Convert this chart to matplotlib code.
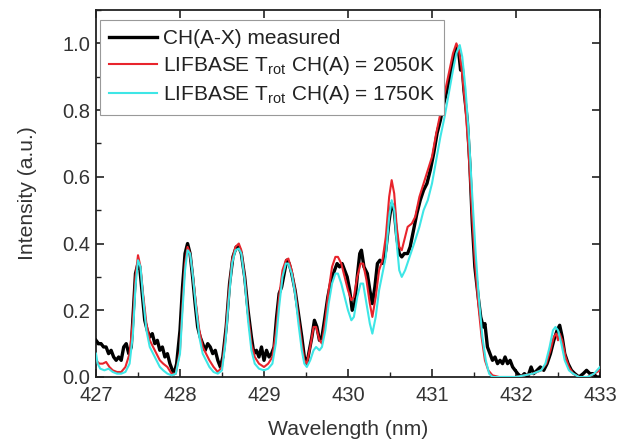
import matplotlib
matplotlib.use("Agg")
import matplotlib.pyplot as plt
from matplotlib.ticker import MultipleLocator, FormatStrFormatter

plt.rcParams['font.family'] = ['Liberation Sans', 'DejaVu Sans']
plt.rcParams['mathtext.fontset'] = 'custom'
plt.rcParams['mathtext.rm'] = 'Liberation Sans'
plt.rcParams['mathtext.it'] = 'Liberation Sans:italic'

# measured spectrum
meas_wl = [427.00, 427.03, 427.06, 427.09, 427.12, 427.15, 427.18, 427.21, 427.24, 427.27,
           427.30, 427.33, 427.36, 427.39, 427.42, 427.44, 427.47, 427.50, 427.52, 427.55,
           427.58, 427.61, 427.64, 427.67, 427.70, 427.73, 427.76, 427.79, 427.82, 427.85,
           427.88, 427.91, 427.93, 427.96, 428.00, 428.03, 428.06, 428.09, 428.12, 428.15,
           428.18, 428.21, 428.24, 428.27, 428.30, 428.33, 428.36, 428.39, 428.42, 428.45,
           428.48, 428.51, 428.55, 428.59, 428.63, 428.67, 428.70, 428.73, 428.77, 428.81,
           428.85, 428.88, 428.91, 428.94, 428.97, 429.00, 429.03, 429.06, 429.09, 429.12,
           429.15, 429.18, 429.21, 429.24, 429.27, 429.30, 429.33, 429.37, 429.41, 429.45,
           429.48, 429.51, 429.54, 429.57, 429.60, 429.63, 429.66, 429.69, 429.72, 429.76,
           429.80, 429.84, 429.87, 429.90, 429.93, 429.96, 429.99, 430.02, 430.05, 430.08,
           430.11, 430.14, 430.16, 430.19, 430.23, 430.26, 430.29, 430.32, 430.35, 430.38,
           430.42, 430.45, 430.49, 430.52, 430.55, 430.58, 430.61, 430.64, 430.67, 430.71,
           430.74, 430.78, 430.82, 430.86, 430.90, 430.94, 430.98, 431.02, 431.06, 431.10,
           431.14, 431.18, 431.22, 431.26, 431.30, 431.32, 431.34, 431.36, 431.38, 431.42,
           431.45, 431.48, 431.51, 431.55, 431.58, 431.61, 431.63, 431.66, 431.69, 431.72,
           431.75, 431.78, 431.81, 431.84, 431.87, 431.90, 431.93, 431.96, 431.99, 432.02,
           432.06, 432.10, 432.14, 432.18, 432.21, 432.25, 432.29, 432.33, 432.37, 432.41,
           432.45, 432.49, 432.52, 432.55, 432.58, 432.62, 432.66, 432.70, 432.75, 432.80,
           432.84, 432.88, 432.92, 432.96, 433.00]
meas_int = [0.11, 0.10, 0.10, 0.09, 0.09, 0.07, 0.08, 0.06, 0.05, 0.06,
            0.05, 0.09, 0.10, 0.07, 0.09, 0.18, 0.31, 0.34, 0.33, 0.25,
            0.17, 0.14, 0.12, 0.13, 0.10, 0.11, 0.08, 0.09, 0.06, 0.07,
            0.04, 0.02, 0.01, 0.04, 0.14, 0.27, 0.37, 0.40, 0.37, 0.30,
            0.22, 0.15, 0.12, 0.10, 0.08, 0.10, 0.09, 0.07, 0.08, 0.05,
            0.03, 0.06, 0.15, 0.28, 0.36, 0.39, 0.39, 0.37, 0.30, 0.20,
            0.12, 0.07, 0.08, 0.06, 0.09, 0.05, 0.08, 0.06, 0.07, 0.09,
            0.18, 0.25, 0.27, 0.31, 0.35, 0.34, 0.31, 0.26, 0.19, 0.12,
            0.06, 0.04, 0.08, 0.12, 0.17, 0.15, 0.11, 0.12, 0.17, 0.24,
            0.29, 0.32, 0.34, 0.33, 0.34, 0.32, 0.30, 0.26, 0.20, 0.22,
            0.30, 0.37, 0.38, 0.33, 0.31, 0.26, 0.22, 0.27, 0.34, 0.35,
            0.34, 0.38, 0.47, 0.52, 0.50, 0.42, 0.37, 0.36, 0.37, 0.37,
            0.39, 0.44, 0.49, 0.53, 0.56, 0.58, 0.62, 0.67, 0.73, 0.77,
            0.82, 0.86, 0.91, 0.96, 0.99, 0.97, 0.92, 0.93, 0.86, 0.77,
            0.64, 0.46, 0.33, 0.24, 0.18, 0.15, 0.16, 0.09, 0.07, 0.05,
            0.06, 0.04, 0.05, 0.04, 0.06, 0.04, 0.05, 0.03, 0.02, 0.01,
            0.00, 0.01, 0.00, 0.03, 0.01, 0.02, 0.03, 0.02, 0.04, 0.07,
            0.11, 0.14, 0.155, 0.12, 0.07, 0.04, 0.02, 0.01, 0.00, 0.01,
            0.02, 0.01, 0.01, 0.00, 0.00]

# LIFBASE 2050 K
sim2050_wl = [427.00, 427.04, 427.08, 427.12, 427.16, 427.20, 427.25, 427.30, 427.35, 427.40,
              427.44, 427.47, 427.50, 427.53, 427.56, 427.60, 427.64, 427.68, 427.72, 427.76,
              427.80, 427.85, 427.90, 427.95, 428.00, 428.03, 428.06, 428.09, 428.12, 428.15,
              428.19, 428.23, 428.27, 428.31, 428.35, 428.40, 428.45, 428.50, 428.54, 428.58,
              428.62, 428.66, 428.70, 428.73, 428.77, 428.81, 428.85, 428.89, 428.94, 429.00,
              429.05, 429.10, 429.14, 429.18, 429.22, 429.26, 429.29, 429.33, 429.37, 429.41,
              429.45, 429.48, 429.51, 429.55, 429.59, 429.62, 429.66, 429.69, 429.73, 429.77,
              429.81, 429.85, 429.88, 429.92, 429.96, 430.00, 430.04, 430.07, 430.11, 430.15,
              430.18, 430.22, 430.26, 430.29, 430.33, 430.37, 430.41, 430.45, 430.49, 430.52,
              430.55, 430.58, 430.61, 430.64, 430.68, 430.71, 430.76, 430.80, 430.85, 430.90,
              430.95, 431.00, 431.05, 431.10, 431.15, 431.20, 431.25, 431.29, 431.32, 431.35,
              431.39, 431.43, 431.47, 431.51, 431.55, 431.59, 431.63, 431.67, 431.72, 431.80,
              431.90, 432.00, 432.10, 432.20, 432.30, 432.36, 432.41, 432.45, 432.48, 432.50,
              432.52, 432.55, 432.59, 432.63, 432.68, 432.75, 432.85, 432.93, 433.00]
sim2050_int = [0.05, 0.04, 0.04, 0.045, 0.03, 0.02, 0.015, 0.015, 0.03, 0.07,
               0.17, 0.30, 0.365, 0.33, 0.25, 0.16, 0.11, 0.09, 0.07, 0.05,
               0.04, 0.03, 0.01, 0.01, 0.08, 0.22, 0.34, 0.39, 0.37, 0.31,
               0.22, 0.14, 0.09, 0.07, 0.05, 0.03, 0.015, 0.03, 0.12, 0.25,
               0.35, 0.39, 0.40, 0.38, 0.30, 0.19, 0.10, 0.06, 0.04, 0.03,
               0.04, 0.06, 0.13, 0.24, 0.32, 0.35, 0.355, 0.32, 0.26, 0.18,
               0.10, 0.05, 0.04, 0.09, 0.15, 0.15, 0.11, 0.10, 0.17, 0.26,
               0.33, 0.36, 0.36, 0.34, 0.30, 0.26, 0.23, 0.24, 0.30, 0.34,
               0.34, 0.29, 0.22, 0.18, 0.24, 0.32, 0.35, 0.42, 0.54, 0.59,
               0.55, 0.45, 0.39, 0.38, 0.42, 0.45, 0.46, 0.48, 0.54, 0.58,
               0.62, 0.66, 0.73, 0.79, 0.85, 0.91, 0.97, 1.00, 0.98, 0.93,
               0.83, 0.70, 0.52, 0.35, 0.22, 0.12, 0.05, 0.02, 0.005, 0.00,
               0.00, 0.00, 0.005, 0.01, 0.02, 0.04, 0.08, 0.12, 0.13, 0.11,
               0.13, 0.11, 0.06, 0.03, 0.01, 0.00, 0.00, 0.01, 0.02]

# LIFBASE 1750 K
sim1750_wl = [427.00, 427.02, 427.05, 427.10, 427.15, 427.20, 427.25, 427.30, 427.35, 427.40,
              427.44, 427.47, 427.50, 427.53, 427.56, 427.60, 427.64, 427.68, 427.72, 427.76,
              427.80, 427.85, 427.90, 427.95, 428.00, 428.03, 428.06, 428.09, 428.12, 428.15,
              428.19, 428.23, 428.27, 428.31, 428.35, 428.40, 428.45, 428.50, 428.54, 428.58,
              428.62, 428.66, 428.70, 428.73, 428.77, 428.81, 428.85, 428.89, 428.94, 429.00,
              429.05, 429.10, 429.14, 429.18, 429.22, 429.26, 429.29, 429.33, 429.37, 429.41,
              429.45, 429.48, 429.51, 429.55, 429.59, 429.62, 429.66, 429.69, 429.73, 429.77,
              429.81, 429.85, 429.88, 429.92, 429.96, 430.00, 430.04, 430.07, 430.11, 430.15,
              430.18, 430.22, 430.26, 430.29, 430.33, 430.37, 430.41, 430.45, 430.49, 430.52,
              430.55, 430.58, 430.61, 430.64, 430.68, 430.72, 430.76, 430.80, 430.85, 430.90,
              430.95, 431.00, 431.05, 431.10, 431.15, 431.20, 431.25, 431.29, 431.33, 431.36,
              431.40, 431.44, 431.48, 431.52, 431.56, 431.60, 431.64, 431.68, 431.72, 431.80,
              431.90, 432.00, 432.10, 432.20, 432.30, 432.35, 432.40, 432.44, 432.47, 432.50,
              432.54, 432.58, 432.63, 432.68, 432.75, 432.85, 432.93, 433.00]
sim1750_int = [0.07, 0.04, 0.025, 0.02, 0.025, 0.015, 0.01, 0.01, 0.015, 0.04,
               0.13, 0.27, 0.35, 0.33, 0.24, 0.14, 0.09, 0.07, 0.05, 0.03,
               0.02, 0.01, 0.005, 0.01, 0.07, 0.20, 0.32, 0.38, 0.37, 0.31,
               0.21, 0.12, 0.07, 0.05, 0.03, 0.015, 0.01, 0.02, 0.10, 0.23,
               0.34, 0.38, 0.385, 0.37, 0.29, 0.17, 0.08, 0.04, 0.025, 0.02,
               0.025, 0.04, 0.10, 0.21, 0.30, 0.34, 0.34, 0.31, 0.25, 0.16,
               0.08, 0.04, 0.03, 0.05, 0.08, 0.09, 0.08, 0.09, 0.14, 0.22,
               0.28, 0.31, 0.31, 0.28, 0.24, 0.20, 0.17, 0.18, 0.24, 0.28,
               0.28, 0.22, 0.16, 0.13, 0.18, 0.26, 0.31, 0.36, 0.48, 0.53,
               0.50, 0.40, 0.32, 0.30, 0.32, 0.35, 0.38, 0.41, 0.45, 0.50,
               0.53, 0.58, 0.65, 0.72, 0.78, 0.85, 0.92, 0.97, 0.995, 0.96,
               0.86, 0.72, 0.54, 0.37, 0.23, 0.12, 0.05, 0.01, 0.00, 0.00,
               0.00, 0.00, 0.005, 0.01, 0.02, 0.04, 0.09, 0.14, 0.15, 0.14,
               0.10, 0.05, 0.02, 0.01, 0.00, 0.00, 0.01, 0.03]

labels = ["CH(A-X) measured",
          r"LIFBASE T$_{\mathrm{rot}}$ CH(A) = 2050K",
          r"LIFBASE T$_{\mathrm{rot}}$ CH(A) = 1750K"]

fig = plt.figure(figsize=(6.3, 4.41), dpi=100)
ax = fig.add_axes([96/630, 1 - 377/441, 504/630, 367/441])

ax.plot(meas_wl, meas_int, color='black', lw=2.4, label=labels[0], zorder=3)
ax.plot(sim2050_wl, sim2050_int, color='#e8242c', lw=1.5, label=labels[1], zorder=4)
ax.plot(sim1750_wl, sim1750_int, color='#3ee6e6', lw=1.5, label=labels[2], zorder=5)

ax.set_xlim(427, 433)
ax.set_ylim(0, 1.1)
ax.xaxis.set_major_locator(MultipleLocator(1))
ax.xaxis.set_minor_locator(MultipleLocator(0.5))
ax.yaxis.set_major_locator(MultipleLocator(0.2))
ax.yaxis.set_minor_locator(MultipleLocator(0.1))
ax.yaxis.set_major_formatter(FormatStrFormatter('%.1f'))
ax.tick_params(which='major', direction='in', length=6, width=1.2, labelsize=14.5,
               top=True, right=True, color='#222222', labelcolor='#333333')
ax.tick_params(axis='x', which='major', pad=6.5)
ax.tick_params(axis='y', which='major', pad=4)
ax.tick_params(which='minor', direction='in', length=3.5, width=1.0, color='#222222')
for s in ax.spines.values():
    s.set_linewidth(1.3)
    s.set_color('#222222')

ax.set_xlabel("Wavelength (nm)", fontsize=15.2, color='#333333', labelpad=11)
ax.set_ylabel("Intensity (a.u.)", fontsize=15.2, color='#333333', labelpad=18)

leg = ax.legend(loc='upper left', bbox_to_anchor=(0.008, 0.973), fontsize=15,
                frameon=True, fancybox=False, edgecolor='#999999', framealpha=1,
                handlelength=2.3, handletextpad=0.25, borderpad=0.45, labelspacing=0.28,
                borderaxespad=0.0)
leg.get_frame().set_linewidth(0.8)
for t in leg.get_texts():
    t.set_color('#222222')

fig.savefig("out.png", dpi=100)
